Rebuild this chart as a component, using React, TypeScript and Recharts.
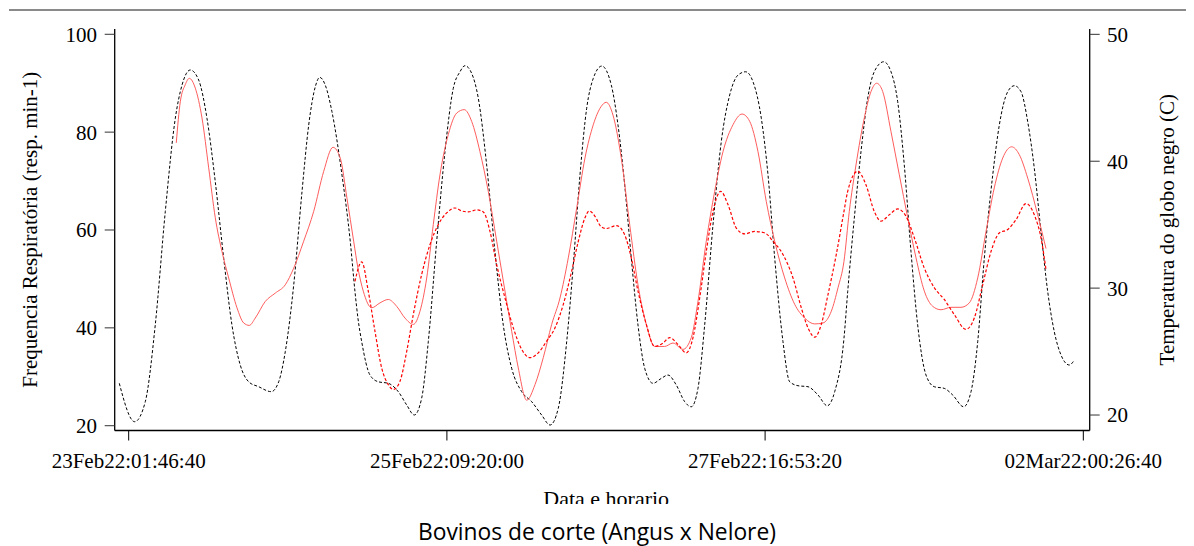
import React from 'react';
import { LineChart, Line, XAxis, YAxis } from 'recharts';

// X tick labels (SAS datetime labels, one every 200000 s)
const tickLabels = ['23Feb22:01:46:40', '25Feb22:09:20:00', '27Feb22:16:53:20', '02Mar22:00:26:40'];
const tickStepHours = 200000 / 3600;
const xTicks = tickLabels.map((_, i) => i * tickStepHours);

// Temperatura do globo negro (C) — hours since 23Feb22:01:46:40
const globoHours = [-1.64, 1.05, 2.9, 4.64, 6.39, 8.14, 9.31, 10.75, 12.22, 13.67, 15.12, 16.59, 18.03, 19.48, 20.95, 22.7, 24.9, 26.19, 27.34, 28.81, 30.26, 31.43, 32.58, 33.35, 34.32, 35.49, 37.24, 38.69, 39.51, 40.03, 40.68, 42.13, 43.58, 45.32, 47.07, 48.54, 49.86, 51.15, 52.31, 53.77, 55.22, 56.67, 57.84, 58.71, 59.88, 61.04, 62.5, 63.95, 65.4, 66.87, 68.61, 70.36, 72.1, 73.56, 75.0, 76.47, 77.62, 78.79, 79.96, 81.11, 82.6, 84.26, 85.43, 86.6, 87.75, 88.92, 90.09, 91.54, 92.99, 94.16, 95.61, 97.07, 98.22, 99.39, 100.56, 102.01, 103.46, 104.93, 106.38, 107.72, 109.0, 110.45, 111.62, 112.79, 114.23, 115.4, 116.85, 118.6, 120.34, 121.97, 123.26, 124.88, 125.53, 126.68, 127.85, 129.02, 130.17, 131.82, 133.09, 134.26, 135.41, 136.58, 137.75, 139.2, 140.65, 142.39, 143.86, 145.78, 147.06, 148.23, 149.38, 150.85, 152.0, 153.47, 154.62, 155.79, 156.96, 158.11, 159.28, 160.45, 161.6, 162.77, 164.22, 165.09];
const globoTemp = [22.5, 19.47, 21.05, 27.09, 36.02, 43.38, 46.0, 47.19, 46.4, 43.38, 38.38, 32.35, 27.09, 23.94, 22.62, 22.23, 21.84, 22.62, 24.99, 30.24, 37.6, 42.85, 45.87, 46.61, 46.0, 43.9, 38.91, 33.66, 29.72, 27.62, 25.78, 23.15, 22.62, 22.5, 21.84, 20.79, 20.0, 21.32, 25.78, 33.66, 40.75, 45.74, 47.05, 47.53, 46.93, 44.96, 39.7, 32.87, 27.09, 23.68, 21.84, 21.05, 20.0, 19.21, 20.53, 25.78, 31.82, 38.91, 44.17, 46.53, 47.5, 46.0, 42.85, 38.12, 32.35, 27.09, 23.68, 22.5, 22.89, 23.15, 22.36, 21.05, 20.65, 22.1, 27.09, 34.97, 41.54, 45.22, 46.79, 47.05, 46.26, 43.38, 38.91, 32.35, 25.78, 22.62, 22.31, 22.23, 21.58, 20.73, 21.84, 26.04, 29.72, 35.5, 40.75, 44.96, 47.05, 47.84, 47.05, 44.69, 39.7, 32.87, 27.09, 23.15, 22.23, 22.1, 21.58, 20.65, 21.84, 25.78, 32.35, 38.91, 42.85, 45.48, 45.95, 45.48, 43.11, 39.44, 34.44, 29.72, 26.56, 24.73, 23.94, 24.33];

// Frequencia respiratoria — solid light red series
const frSolidHours = [8.31, 9.01, 9.88, 10.58, 11.63, 12.8, 13.97, 15.12, 16.29, 17.46, 18.91, 20.08, 21.06, 22.1, 23.85, 25.59, 27.34, 28.81, 30.55, 32.3, 34.05, 35.67, 36.94, 38.11, 39.28, 40.03, 40.96, 42.43, 43.87, 45.32, 46.79, 48.24, 49.69, 50.86, 52.03, 53.18, 54.35, 55.8, 57.27, 58.59, 59.88, 61.33, 62.78, 64.25, 65.7, 66.87, 68.02, 69.49, 70.94, 72.38, 73.85, 75.3, 76.75, 78.22, 79.66, 81.11, 82.46, 83.38, 84.55, 86.0, 87.47, 88.92, 90.37, 91.83, 93.58, 95.03, 96.77, 98.22, 99.39, 100.84, 102.31, 103.76, 105.5, 107.08, 108.42, 109.87, 111.32, 112.79, 114.53, 116.28, 118.02, 119.77, 121.22, 122.67, 123.84, 124.88, 125.81, 126.98, 128.43, 129.6, 130.59, 131.64, 133.09, 134.54, 136.01, 137.46, 138.91, 140.37, 141.82, 143.56, 145.31, 146.76, 148.23, 149.68, 151.12, 152.59, 154.16, 155.49, 156.96, 158.7, 160.15];
const frSolidValues = [77.8, 86.2, 89.7, 91.0, 89.0, 82.9, 72.7, 62.5, 55.6, 50.2, 44.1, 41.0, 40.5, 42.0, 45.4, 47.1, 48.8, 52.2, 57.7, 63.8, 72.0, 76.9, 74.7, 66.5, 57.7, 52.2, 47.5, 44.1, 45.1, 45.8, 44.4, 42.0, 40.7, 43.4, 50.2, 61.1, 71.3, 79.5, 83.9, 84.6, 82.2, 76.0, 67.9, 57.7, 47.5, 39.3, 31.8, 25.2, 28.4, 33.9, 40.7, 46.1, 54.3, 64.5, 74.7, 81.5, 85.2, 86.1, 83.5, 74.7, 61.1, 48.8, 40.7, 36.2, 36.2, 36.9, 35.6, 38.0, 45.4, 57.7, 67.9, 76.0, 81.5, 83.7, 82.2, 76.0, 65.8, 57.7, 50.2, 44.8, 42.0, 40.8, 41.0, 43.4, 48.2, 53.6, 63.8, 73.3, 82.9, 88.3, 90.0, 88.3, 80.1, 71.3, 62.5, 54.3, 47.5, 44.4, 43.7, 44.2, 44.2, 45.1, 50.2, 59.7, 68.6, 74.7, 77.0, 75.4, 70.6, 63.1, 56.2];

// Frequencia respiratoria — dashed red series
const frDashHours = [39.51, 40.68, 41.83, 43.0, 44.17, 45.32, 46.2, 47.37, 48.54, 49.69, 51.15, 52.6, 54.05, 55.52, 56.97, 58.14, 59.29, 60.76, 61.91, 63.08, 64.25, 65.7, 67.15, 68.61, 70.06, 71.51, 72.98, 74.43, 75.88, 77.34, 78.5, 79.66, 80.42, 81.41, 82.46, 83.38, 85.13, 86.6, 87.75, 88.92, 90.37, 91.83, 93.28, 94.45, 95.9, 97.35, 98.52, 99.69, 100.84, 102.01, 103.36, 104.63, 106.08, 107.55, 109.29, 111.04, 112.49, 114.23, 115.98, 117.43, 118.6, 119.77, 120.92, 122.09, 123.54, 124.88, 125.53, 127.28, 128.73, 130.17, 131.34, 132.79, 134.26, 135.71, 137.16, 138.91, 140.65, 142.39, 144.14, 146.18, 147.63, 149.1, 150.55, 152.0, 153.47, 154.92, 156.66, 158.11, 159.28, 160.15];
const frDashValues = [49.5, 53.5, 47.5, 39.3, 31.8, 28.4, 27.4, 29.1, 35.2, 42.7, 50.9, 57.0, 61.1, 63.5, 64.5, 63.9, 63.7, 64.1, 63.7, 59.7, 52.9, 46.1, 40.0, 35.6, 33.9, 34.9, 37.3, 40.0, 44.8, 51.6, 57.7, 62.5, 63.9, 62.8, 60.7, 60.3, 60.9, 59.0, 54.3, 47.5, 40.7, 36.2, 36.9, 38.0, 36.6, 34.9, 38.0, 46.1, 55.6, 63.8, 67.9, 65.2, 60.4, 59.2, 59.7, 59.4, 57.7, 55.0, 50.2, 44.1, 40.0, 38.1, 40.7, 46.8, 55.0, 63.8, 67.9, 72.0, 69.2, 63.8, 61.8, 63.1, 64.3, 62.8, 58.4, 52.2, 48.2, 45.8, 42.7, 39.7, 42.0, 48.8, 55.6, 59.4, 60.1, 62.1, 65.4, 63.1, 58.4, 51.9];

const leftTicks = [20, 40, 60, 80, 100];
const rightTicks = [20, 30, 40, 50];

const toSeries = (xs: number[], ys: number[]) => xs.map((t, i) => ({ t, v: ys[i] }));
const globoData = toSeries(globoHours, globoTemp);
const frSolidData = toSeries(frSolidHours, frSolidValues);
const frDashData = toSeries(frDashHours, frDashValues);

const SERIF = '"Liberation Serif", "Times New Roman", serif';
const tickStyle = { fontFamily: SERIF, fontSize: 21, fill: '#000' };

const labelIndex = (v: number) => Math.round(v / tickStepHours);

export default function App() {
  return (
    <div style={{ position: 'relative', width: 1186, height: 538 }}>
      <div style={{ position: 'absolute', left: 1, top: 1, width: 1185, height: 1.5, background: '#8a8a8a' }} />
      <div style={{ position: 'absolute', left: 0, top: 0, width: 1186, height: 495.5, overflow: 'hidden' }}>
        <LineChart width={1186} height={495.5} margin={{ top: 21, right: 0, bottom: 0, left: 0 }}>
          <XAxis
            xAxisId="top"
            orientation="top"
            type="number"
            dataKey="t"
            domain={[-2.44, 167.78]}
            allowDataOverflow
            height={0}
            tick={false}
            tickLine={false}
            axisLine={{ stroke: '#707070', strokeWidth: 1.5 }}
          />
          <XAxis
            type="number"
            dataKey="t"
            domain={[-2.44, 167.78]}
            allowDataOverflow
            ticks={xTicks}
            interval={0}
            height={73}
            tickSize={10}
            tickMargin={13}
            tick={tickStyle}
            tickLine={{ stroke: '#000' }}
            axisLine={{ stroke: '#000', strokeWidth: 1.3 }}
            tickFormatter={(v: number) => tickLabels[labelIndex(v)] ?? ''}
            label={{
              content: (p: any) => {
                const vb = p.viewBox || {};
                const cx = vb.x + vb.width / 2 + 4;
                const cy = vb.y + 75;
                return (
                  <text x={cx} y={cy} textAnchor="middle" style={{ fontFamily: SERIF, fontSize: 22, fill: '#000' }}>
                    Data e horario
                  </text>
                );
              },
            }}
          />
          <YAxis
            yAxisId="left"
            orientation="left"
            width={106.7}
            domain={[19.02, 101.08]}
            allowDataOverflow
            ticks={leftTicks}
            interval={0}
            tickSize={10}
            tickMargin={7.7}
            tick={tickStyle}
            tickLine={{ stroke: '#333' }}
            axisLine={{ stroke: '#000', strokeWidth: 1.3 }}
            label={{
              content: (p: any) => {
                const vb = p.viewBox || {};
                const cx = vb.x + 29.3;
                const cy = vb.y + vb.height / 2;
                return (
                  <text x={cx} y={cy} textAnchor="middle" transform={`rotate(-90 ${cx} ${cy})`} style={{ fontFamily: SERIF, fontSize: 21, fill: '#000' }}>
                    Frequencia Respiratória (resp. min-1)
                  </text>
                );
              },
            }}
          />
          <YAxis
            yAxisId="right"
            orientation="right"
            width={104.3}
            domain={[18.78, 50.42]}
            allowDataOverflow
            ticks={rightTicks}
            interval={0}
            tickSize={10}
            tickMargin={7.3}
            tick={tickStyle}
            tickLine={{ stroke: '#333' }}
            axisLine={{ stroke: '#000', strokeWidth: 1.3 }}
            label={{
              content: (p: any) => {
                const vb = p.viewBox || {};
                const cx = vb.x + 84.3;
                const cy = vb.y + vb.height / 2;
                return (
                  <text x={cx} y={cy} textAnchor="middle" transform={`rotate(-90 ${cx} ${cy})`} style={{ fontFamily: SERIF, fontSize: 21, fill: '#000' }}>
                    Temperatura do globo negro (C)
                  </text>
                );
              },
            }}
          />
          <Line
            data={globoData}
            yAxisId="right"
            dataKey="v"
            type="monotone"
            stroke="#000"
            strokeWidth={1}
            strokeDasharray="3 2"
            dot={false}
            activeDot={false}
            isAnimationActive={false}
          />
          <Line
            data={frSolidData}
            yAxisId="left"
            dataKey="v"
            type="monotone"
            stroke="#ff5c5c"
            strokeWidth={1}
            dot={false}
            activeDot={false}
            isAnimationActive={false}
          />
          <Line
            data={frDashData}
            yAxisId="left"
            dataKey="v"
            type="monotone"
            stroke="#ff0000"
            strokeWidth={1.2}
            strokeDasharray="3 2"
            dot={false}
            activeDot={false}
            isAnimationActive={false}
          />
        </LineChart>
      </div>
      <svg style={{ position: 'absolute', left: 0, top: 500, overflow: 'visible' }} width={1186} height={38}>
        <text x={589} y={31.5} textAnchor="middle" style={{ fontFamily: '"Open Sans", "Noto Sans", sans-serif', fontSize: 22.8, fill: '#000' }}>
          Bovinos de corte (Angus x Nelore)
        </text>
      </svg>
    </div>
  );
}
